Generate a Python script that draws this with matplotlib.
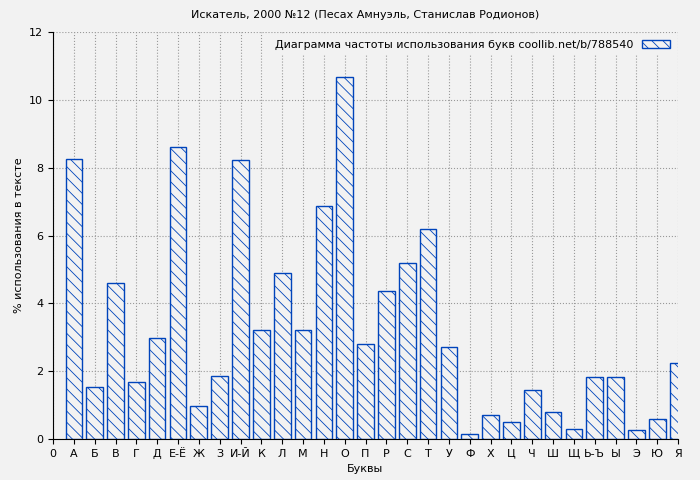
import matplotlib.pyplot as plt
import numpy as np

letters = ["А", "Б", "В", "Г", "Д", "Е-Ё", "Ж", "З", "И-Й", "К", "Л", "М", "Н", "О", "П",
           "Р", "С", "Т", "У", "Ф", "Х", "Ц", "Ч", "Ш", "Щ", "Ь-Ъ", "Ы", "Э", "Ю", "Я"]
values = [8.25, 1.52, 4.6, 1.67, 2.97, 8.6, 0.98, 1.85, 8.22, 3.22, 4.9, 3.22, 6.88, 10.67, 2.8,
          4.35, 5.18, 6.2, 2.7, 0.15, 0.72, 0.5, 1.45, 0.8, 0.3, 1.83, 1.83, 0.28, 0.6, 2.25]

plt.rcParams['hatch.color'] = '#0044bb'
plt.rcParams['hatch.linewidth'] = 0.6
fig = plt.figure(figsize=(7, 4.8), dpi=100, facecolor='#f2f2f2')
ax = fig.add_axes([53/700, 41/480, 625/700, 407/480])
ax.set_facecolor('#f2f2f2')
x = np.arange(1, len(letters) + 1)
ax.bar(x, values, width=0.8, facecolor='#f2f2f2', edgecolor='#0044bb', linewidth=1,
       hatch='\\\\\\', label='Диаграмма частоты использования букв coollib.net/b/788540', zorder=2)
ax.set_xlim(0, 30)
ax.set_ylim(0, 12)
ax.set_xticks(np.arange(0, 31))
ax.set_xticklabels(["0"] + letters, fontsize=8)
ax.set_yticks(np.arange(0, 13, 2))
ax.tick_params(axis='y', labelsize=8)
ax.grid(True, linestyle=':', color='#999999', linewidth=0.8, zorder=0)
for s in ['top', 'right']:
    ax.spines[s].set_visible(False)
ax.set_xlabel('Буквы', fontsize=8)
ax.set_ylabel('% использования в тексте', fontsize=8)
ax.set_title('Искатель, 2000 №12 (Песах Амнуэль, Станислав Родионов)', fontsize=8, pad=10)
ax.legend(loc='upper right', fontsize=8, frameon=True, facecolor='#f2f2f2', edgecolor='none',
          framealpha=1, handlelength=2.5, borderaxespad=0.3, markerfirst=False)
fig.savefig('out.png', dpi=100, facecolor='#f2f2f2')
